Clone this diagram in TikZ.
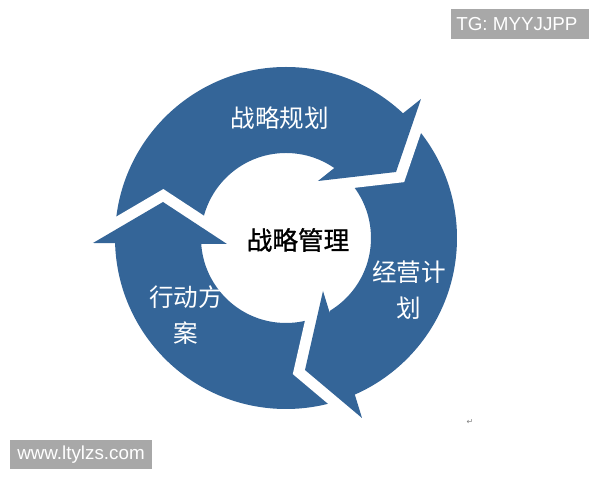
\documentclass[tikz,border=0pt]{standalone}
\usepackage{fontspec}
\setmainfont{Liberation Sans}
\newfontfamily\cjk{Noto Sans CJK SC}
\newfontfamily\cjkmid{Noto Sans CJK SC}[FakeBold=1]
\newfontfamily\dejavu{DejaVu Sans}
\definecolor{ringblue}{RGB}{52,101,152}
\definecolor{wmgray}{RGB}{168,168,168}
\begin{document}
\begin{tikzpicture}[x=0.02cm,y=0.02cm,
  headfill/.style={fill=ringblue},
  gapline/.style={draw=white,line width=0.44cm,line join=miter,line cap=butt},
  ringlabel/.style={text=white,font=\cjk\fontsize{14pt}{20.4pt}\selectfont,align=center,inner sep=0pt},
  centerlabel/.style={text=black,font=\cjkmid\fontsize{14.6pt}{16pt}\selectfont,inner sep=0pt},
  wmtext/.style={text=white,font=\fontsize{10.7pt}{12pt}\selectfont,inner sep=0pt}]
\useasboundingbox (0,0) rectangle (600,480);
\fill[white] (0,0) rectangle (600,480);
\coordinate (O) at (286,242);
% ring
\fill[ringblue,even odd rule] (O) circle (171) (O) circle (85);
% head of top arrow
\coordinate (T1) at (396,308); \coordinate (B1o) at (421,381); \coordinate (B1i) at (318,299);
\draw[gapline] (B1o) -- (T1) -- (B1i);
\fill[headfill] (B1o) -- (T1) -- (B1i) -- cycle;
% head of left arrow
\coordinate (T2) at (163,278); \coordinate (B2o) at (93,237); \coordinate (B2i) at (227,236);
\draw[gapline] (B2o) -- (T2) -- (B2i);
\fill[headfill] (B2o) -- (T2) -- (B2i) -- cycle;
% head of right arrow
\coordinate (T3) at (305,110); \coordinate (B3o) at (362,62); \coordinate (B3i) at (323,189);
\draw[gapline] (B3o) -- (T3) -- (B3i);
\fill[headfill] (B3o) -- (T3) -- (B3i) -- cycle;
% labels
\node[ringlabel] (plan) at (280,362) {战略规划};
\node[ringlabel] (oper) at (409,190) {经营计\\划};
\node[ringlabel] (act) at (186,165) {行动方\\案};
\node[centerlabel] (mgmt) at (298,240) {战略管理};
% watermarks
\fill[wmgray] (451,441) rectangle (589,471);
\node[wmtext,anchor=west] (tg) at (456,456) {TG: MYYJJPP};
\fill[wmgray] (10,11) rectangle (152,40);
\node[wmtext] (www) at (81,25.5) {www.ltylzs.com};
\node[text=gray,font=\dejavu\fontsize{4.5pt}{5pt}\selectfont,inner sep=0pt] (mark) at (470,58) {↵};
\end{tikzpicture}
\end{document}
